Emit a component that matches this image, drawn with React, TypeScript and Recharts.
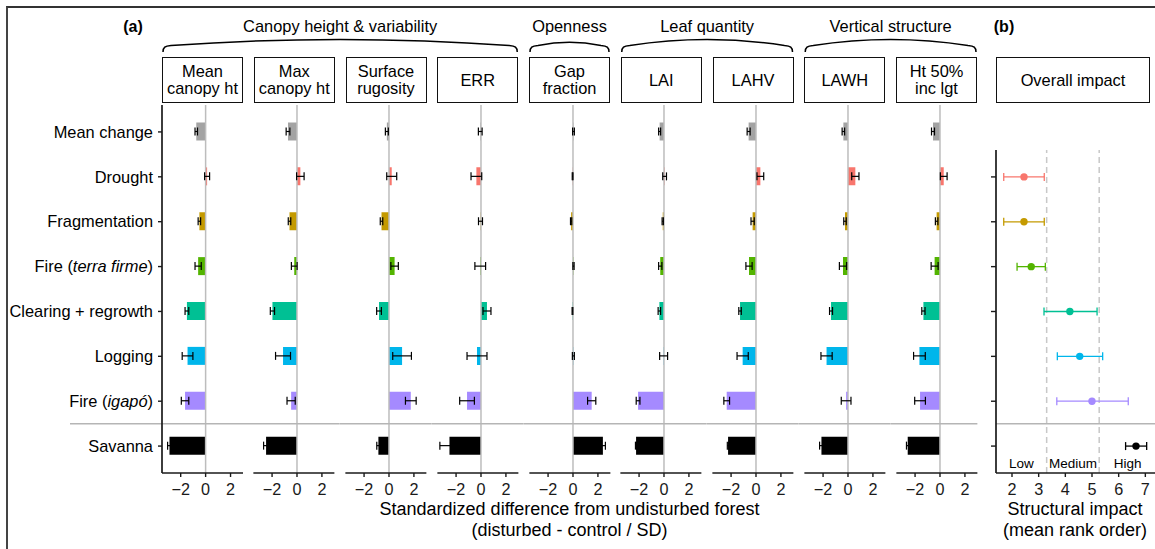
import React from 'react';
import {
  ComposedChart,
  Bar,
  Cell,
  ErrorBar,
  XAxis,
  YAxis,
  ReferenceLine,
  ReferenceArea,
  Scatter,
} from 'recharts';

// categories, top to bottom
const categories = [
  'Mean change',
  'Drought',
  'Fragmentation',
  'Fire (terra firme)',
  'Clearing + regrowth',
  'Logging',
  'Fire (igapó)',
  'Savanna',
];
const italicParts = ['', '', '', 'terra firme', '', '', 'igapó', ''];
const categoryColors = ['#A3A3A3', '#F8766D', '#C49A00', '#53B400', '#00C094', '#00B6EB', '#A58AFF', '#000000'];

const panelTitles = [
  ['Mean', 'canopy ht'],
  ['Max', 'canopy ht'],
  ['Surface', 'rugosity'],
  ['ERR'],
  ['Gap', 'fraction'],
  ['LAI'],
  ['LAHV'],
  ['LAWH'],
  ['Ht 50%', 'inc lgt'],
];

// standardized differences (disturbed - control / SD) and their errors
const meanCanopyHt = [-0.75, 0.12, -0.5, -0.6, -1.5, -1.45, -1.65, -2.9];
const meanCanopyHtErr = [0.1, 0.2, 0.1, 0.25, 0.15, 0.43, 0.3, 0.15];
const maxCanopyHt = [-0.72, 0.27, -0.6, -0.22, -1.97, -1.12, -0.47, -2.48];
const maxCanopyHtErr = [0.15, 0.3, 0.1, 0.23, 0.17, 0.6, 0.33, 0.2];
const surfaceRugosity = [-0.17, 0.22, -0.6, 0.45, -0.8, 1.05, 1.75, -0.85];
const surfaceRugosityErr = [0.12, 0.4, 0.1, 0.3, 0.19, 0.75, 0.43, 0.13];
const errValues = [-0.06, -0.37, -0.04, -0.06, 0.48, -0.32, -1.12, -2.53];
const errValuesErr = [0.15, 0.43, 0.16, 0.43, 0.32, 0.8, 0.59, 0.77];
const gapFraction = [0.04, -0.03, -0.15, 0.04, -0.04, 0.03, 1.5, 2.4];
const gapFractionErr = [0.07, 0.03, 0.05, 0.05, 0.03, 0.08, 0.33, 0.2];
const lai = [-0.35, 0.05, -0.1, -0.3, -0.37, -0.03, -2.08, -2.24];
const laiErr = [0.08, 0.15, 0.05, 0.13, 0.1, 0.32, 0.15, 0.05];
const lahv = [-0.59, 0.35, -0.27, -0.56, -1.28, -1.07, -2.35, -2.24];
const lahvErr = [0.12, 0.27, 0.13, 0.25, 0.1, 0.45, 0.23, 0.06];
const lawh = [-0.37, 0.59, -0.24, -0.4, -1.36, -1.72, -0.15, -2.13];
const lawhErr = [0.1, 0.29, 0.1, 0.29, 0.12, 0.45, 0.39, 0.15];
const ht50 = [-0.56, 0.3, -0.27, -0.43, -1.33, -1.65, -1.6, -2.59];
const ht50Err = [0.12, 0.27, 0.1, 0.28, 0.13, 0.47, 0.43, 0.1];

const panelValues = [meanCanopyHt, maxCanopyHt, surfaceRugosity, errValues, gapFraction, lai, lahv, lawh, ht50];
const panelErrors = [meanCanopyHtErr, maxCanopyHtErr, surfaceRugosityErr, errValuesErr, gapFractionErr, laiErr, lahvErr, lawhErr, ht50Err];

const groups = [
  { name: 'Canopy height & variability', first: 0, last: 3 },
  { name: 'Openness', first: 4, last: 4 },
  { name: 'Leaf quantity', first: 5, last: 6 },
  { name: 'Vertical structure', first: 7, last: 8 },
];

// overall impact (b), rows Drought .. Savanna
const impactMean = [2.45, 2.45, 2.72, 4.17, 4.54, 5.0, 6.65];
const impactLow = [1.69, 1.69, 2.19, 3.2, 3.7, 3.68, 6.26];
const impactHigh = [3.21, 3.21, 3.25, 5.19, 5.4, 6.36, 7.05];
const impactBreaks = [3.3, 5.27];
const impactClasses = ['Low', 'Medium', 'High'];

const xTicks = [-2, 0, 2];
const impactTicks = [2, 3, 4, 5, 6, 7];
const rowTicks = [0, 1, 2, 3, 4, 5, 6, 7];

const FONT = '"Liberation Sans", Arial, Helvetica, sans-serif';
const H = 549;
const PANEL_LEFT = 162;
const PANEL_STEP = 91.75;
const PANEL_W = 81;
const PLOT_TOP = 105;
const PLOT_BOTTOM = 473;
const X_DOMAIN: [number, number] = [-3.5, 3];
const Y_DOMAIN: [number, number] = [-0.6, 7.6];
const AXIS_COLOR = '#1a1a1a';
const SEP_COLOR = '#b5b5b5';
const IMPACT_LEFT = 996;
const IMPACT_W = 160;
const TICK_FONT = 16.2;

const fmtMinus = (v: number) => (v < 0 ? `\u2212${Math.abs(v)}` : `${v}`);

const CategoryTick = (props: any) => {
  const { x, y, payload } = props;
  const name = categories[payload.value];
  const it = italicParts[payload.value];
  let content: React.ReactNode = name;
  if (it) {
    const k = name.indexOf(it);
    content = [
      <tspan key="a">{name.slice(0, k)}</tspan>,
      <tspan key="b" fontStyle="italic">{it}</tspan>,
      <tspan key="c">{name.slice(k + it.length)}</tspan>,
    ];
  }
  return (
    <text x={x} y={y} dy={5.8} textAnchor="end" fontSize={16.4} fill="#000">
      {content}
    </text>
  );
};

function BarPanel({ index }: { index: number }) {
  const data = categories.map((c, i) => ({ idx: i, value: panelValues[index][i], err: panelErrors[index][i] }));
  const first = index === 0;
  const lastPanel = index === panelValues.length - 1;
  const half = (PANEL_STEP - PANEL_W) / 2;
  const unit = PANEL_W / (X_DOMAIN[1] - X_DOMAIN[0]);
  const left = first ? 0 : PANEL_LEFT + index * PANEL_STEP - half;
  const width = (first ? PANEL_LEFT : half) + PANEL_W + half;
  const extL = first ? (PANEL_LEFT - 70) / unit : half / unit;
  const extR = lastPanel ? 0 : half / unit;
  return (
    <div style={{ position: 'absolute', left, top: 0 }}>
      <ComposedChart
        layout="vertical"
        width={width}
        height={H}
        data={data}
        margin={{ top: PLOT_TOP, bottom: H - PLOT_BOTTOM - 30, left: first ? 0 : half, right: half }}
      >
        <XAxis
          type="number"
          domain={X_DOMAIN}
          allowDataOverflow
          ticks={xTicks}
          tickFormatter={fmtMinus}
          height={30}
          tickSize={4}
          tickMargin={6}
          axisLine={{ stroke: AXIS_COLOR, strokeWidth: 1.7 }}
          tickLine={{ stroke: AXIS_COLOR, strokeWidth: 1.4 }}
          tick={{ fontSize: TICK_FONT, fill: AXIS_COLOR }}
        />
        <YAxis
          type="number"
          dataKey="idx"
          domain={Y_DOMAIN}
          allowDataOverflow
          ticks={rowTicks}
          hide={!first}
          width={first ? PANEL_LEFT : 0}
          tickSize={4}
          tickMargin={5}
          interval={0}
          axisLine={{ stroke: AXIS_COLOR, strokeWidth: 1.7 }}
          tickLine={{ stroke: AXIS_COLOR, strokeWidth: 1.4 }}
          tick={<CategoryTick />}
        />
        <ReferenceLine x={0} stroke="#bdbdbd" strokeWidth={1.5} />
        <ReferenceLine
          segment={[
            { x: X_DOMAIN[0] - extL, y: 6.5 },
            { x: X_DOMAIN[1] + extR, y: 6.5 },
          ]}
          ifOverflow="visible"
          stroke={SEP_COLOR}
          strokeWidth={1.5}
        />
        <Bar dataKey="value" barSize={18} isAnimationActive={false}>
          {data.map((d, i) => (
            <Cell key={i} fill={categoryColors[i]} />
          ))}
          <ErrorBar dataKey="err" direction="x" width={4} stroke="#000" strokeWidth={1.2} />
        </Bar>
      </ComposedChart>
    </div>
  );
}

function ImpactPanel() {
  const yw = 16;
  const bounds = [1.4, ...impactBreaks, 7.4];
  return (
    <div style={{ position: 'absolute', left: IMPACT_LEFT - yw, top: 0 }}>
      <ComposedChart
        layout="vertical"
        width={yw + IMPACT_W}
        height={H}
        margin={{ top: 150, bottom: H - PLOT_BOTTOM - 30, left: 0, right: 0 }}
      >
        <XAxis
          type="number"
          dataKey="rank"
          domain={[1.4, 7.4]}
          allowDataOverflow
          ticks={impactTicks}
          height={30}
          tickSize={4}
          tickMargin={6}
          axisLine={{ stroke: AXIS_COLOR, strokeWidth: 1.7 }}
          tickLine={{ stroke: AXIS_COLOR, strokeWidth: 1.4 }}
          tick={{ fontSize: TICK_FONT, fill: AXIS_COLOR }}
        />
        <YAxis
          type="number"
          dataKey="idx"
          domain={[0.4, 7.6]}
          allowDataOverflow
          ticks={rowTicks.slice(1)}
          interval={0}
          width={yw}
          tickSize={5}
          tickFormatter={() => ''}
          axisLine={{ stroke: AXIS_COLOR, strokeWidth: 1.7 }}
          tickLine={{ stroke: AXIS_COLOR, strokeWidth: 1.4 }}
        />
        {impactClasses.map((c, i) => (
          <ReferenceArea
            key={c}
            x1={bounds[i]}
            x2={bounds[i + 1]}
            fill="#fff"
            fillOpacity={0}
            stroke="none"
            label={{ value: c, position: 'insideBottom', offset: 5, fontSize: 13.5, fill: '#000' }}
          />
        ))}
        {impactBreaks.map((b) => (
          <ReferenceLine key={b} x={b} stroke="#c8c8c8" strokeWidth={1.5} strokeDasharray="6 4" />
        ))}
        <ReferenceLine y={6.5} stroke={SEP_COLOR} strokeWidth={1.5} />
        {impactMean.map((m, i) => (
          <Scatter
            key={i}
            data={[{ rank: m, idx: i + 1, err: [m - impactLow[i], impactHigh[i] - m] }]}
            fill={categoryColors[i + 1]}
            isAnimationActive={false}
            shape={(p: any) => <circle cx={p.cx} cy={p.cy} r={3.7} fill={categoryColors[i + 1]} />}
          >
            <ErrorBar dataKey="err" direction="x" width={4} stroke={categoryColors[i + 1]} strokeWidth={1.3} />
          </Scatter>
        ))}
      </ComposedChart>
    </div>
  );
}

function Header() {
  const boxLeft = (i: number) => PANEL_LEFT + i * PANEL_STEP;
  return (
    <svg width={1155} height={60} style={{ position: 'absolute', left: 0, top: 0 }}>
      <text x={133} y={32} textAnchor="middle" fontSize={16} fontWeight="bold" fill="#000">(a)</text>
      <text x={1004} y={32} textAnchor="middle" fontSize={16} fontWeight="bold" fill="#000">(b)</text>
      {groups.map((g) => {
        const x1 = boxLeft(g.first) + 1;
        const x2 = boxLeft(g.last) + PANEL_W - 1;
        const xm = (x1 + x2) / 2;
        const rise = Math.min(6, (x2 - x1) * 0.04);
        const d = `M ${x1} 52 C ${x1} 47, ${x1 + 2} 46, ${x1 + 8} 45.5 Q ${xm} ${45.5 - 2 * rise} ${x2 - 8} 45.5 C ${x2 - 2} 46, ${x2} 47, ${x2} 52`;
        return (
          <g key={g.name}>
            <text x={xm} y={32} textAnchor="middle" fontSize={16.4} fill="#000">{g.name}</text>
            <path d={d} fill="none" stroke="#000" strokeWidth={1.5} />
          </g>
        );
      })}
    </svg>
  );
}

const stripStyle: React.CSSProperties = {
  position: 'absolute',
  top: 57,
  height: 46,
  boxSizing: 'border-box',
  border: '1.6px solid #111',
  display: 'flex',
  flexDirection: 'column',
  alignItems: 'center',
  justifyContent: 'center',
  fontSize: 16.4,
  lineHeight: '17px',
  color: '#000',
  background: '#fff',
};

export default function App() {
  return (
    <div
      style={{
        position: 'absolute',
        left: 0,
        top: 0,
        width: 1155,
        height: 549,
        background: '#fff',
        fontFamily: FONT,
        overflow: 'hidden',
      }}
    >
      <div
        style={{
          position: 'absolute',
          left: 6,
          top: 6,
          width: 1300,
          height: 700,
          borderTop: '2px solid #333',
          borderLeft: '2px solid #444',
        }}
      />
      <Header />
      {panelTitles.map((t, i) => (
        <div key={i} style={{ ...stripStyle, left: PANEL_LEFT + i * PANEL_STEP, width: PANEL_W }}>
          {t.map((line) => (
            <span key={line} style={{ whiteSpace: 'nowrap' }}>{line}</span>
          ))}
        </div>
      ))}
      <div style={{ ...stripStyle, left: IMPACT_LEFT, width: 154 }}>
        <span>Overall impact</span>
      </div>
      {panelValues.map((v, i) => (
        <BarPanel key={i} index={i} />
      ))}
      <ImpactPanel />
      <div
        style={{
          position: 'absolute',
          left: PANEL_LEFT,
          width: 8 * PANEL_STEP + PANEL_W,
          top: 499,
          textAlign: 'center',
          fontSize: 18,
          lineHeight: '21px',
          color: '#000',
        }}
      >
        Standardized difference from undisturbed forest
        <br />
        (disturbed - control / SD)
      </div>
      <div
        style={{
          position: 'absolute',
          left: 985,
          width: 180,
          top: 499,
          textAlign: 'center',
          fontSize: 18,
          lineHeight: '21px',
          color: '#000',
        }}
      >
        Structural impact
        <br />
        (mean rank order)
      </div>
    </div>
  );
}
